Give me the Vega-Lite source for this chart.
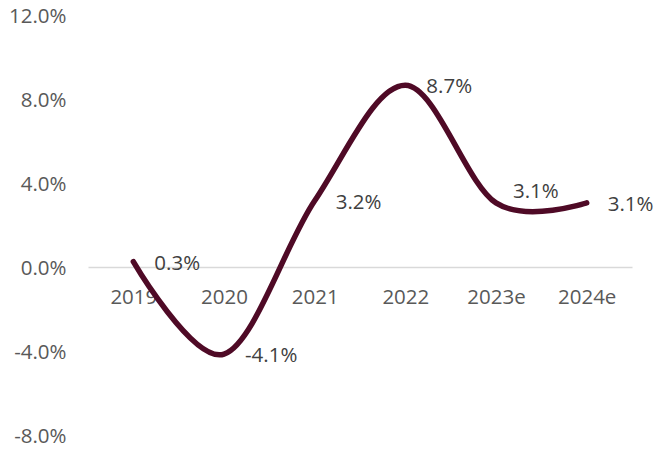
{
  "$schema": "https://vega.github.io/schema/vega-lite/v6.json",
  "autosize": "none",
  "width": 544,
  "height": 420,
  "padding": {"left": 88, "top": 16, "right": 23, "bottom": 16},
  "background": "white",
  "config": {
    "view": {"stroke": null},
    "font": "Open Sans"
  },
  "data": {
    "values": [
      {"year": "2019", "value": 0.003},
      {"year": "2020", "value": -0.041},
      {"year": "2021", "value": 0.032},
      {"year": "2022", "value": 0.087},
      {"year": "2023e", "value": 0.031},
      {"year": "2024e", "value": 0.031}
    ]
  },
  "transform": [
    {"calculate": "replace(format(datum.value, '.1%'), '\u2212', '-')", "as": "label"}
  ],
  "encoding": {
    "x": {
      "field": "year",
      "type": "ordinal",
      "sort": null,
      "scale": {"type": "point", "padding": 0.5},
      "axis": {
        "title": null,
        "labelAngle": 0,
        "offset": -169,
        "ticks": false,
        "domainColor": "#d9d9d9",
        "domainWidth": 1.5,
        "labelPadding": 20,
        "labelFont": "Open Sans",
        "labelFontSize": 20.5,
        "labelColor": "#595959"
      }
    },
    "y": {
      "field": "value",
      "type": "quantitative",
      "scale": {"domain": [-0.08, 0.12], "nice": false, "zero": false},
      "axis": {
        "title": null,
        "values": [-0.08, -0.04, 0, 0.04, 0.08, 0.12],
        "labelExpr": "replace(format(datum.value, '.1%'), '\u2212', '-')",
        "grid": false,
        "domain": false,
        "ticks": false,
        "labelPadding": 22,
        "labelFont": "Open Sans",
        "labelFontSize": 20.5,
        "labelColor": "#595959"
      }
    }
  },
  "layer": [
    {
      "mark": {"type": "line", "interpolate": "cardinal", "color": "#4f0a26", "strokeWidth": 5.5, "strokeCap": "round"}
    },
    {
      "transform": [{"filter": "datum.year != '2023e'"}],
      "mark": {"type": "text", "align": "left", "baseline": "middle", "dx": 21, "dy": 2, "fontSize": 20.5, "color": "#404040", "font": "Open Sans"},
      "encoding": {"text": {"field": "label", "type": "nominal"}}
    },
    {
      "transform": [{"filter": "datum.year == '2023e'"}],
      "mark": {"type": "text", "align": "left", "baseline": "middle", "dx": 17, "dy": -11, "fontSize": 20.5, "color": "#404040", "font": "Open Sans"},
      "encoding": {"text": {"field": "label", "type": "nominal"}}
    }
  ]
}
